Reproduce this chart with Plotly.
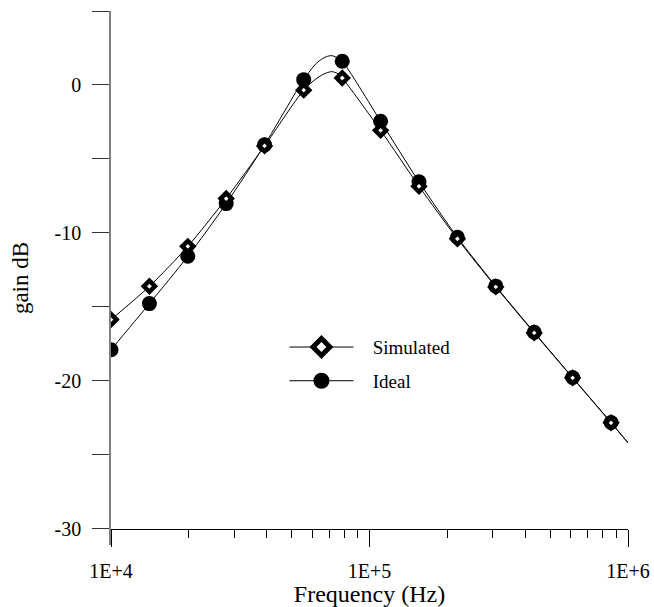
import plotly.graph_objects as go

# ---- data ----
freq_pts = [1.0e4, 1.408e4, 1.982e4, 2.79e4, 3.927e4, 5.566e4, 7.845e4,
            1.104e5, 1.554e5, 2.188e5, 3.08e5, 4.337e5, 6.106e5, 8.6e5]
sim_pts = [-15.86, -13.61, -10.91, -7.68, -4.12, -0.35, 0.47,
           -3.07, -6.85, -10.4, -13.65, -16.76, -19.8, -22.84]
ideal_pts = [-17.9, -14.78, -11.58, -8.02, -4.05, 0.36, 1.6,
             -2.45, -6.55, -10.3, -13.6, -16.72, -19.78, -22.82]

# smooth curves (including the peak and the end at 1E+6)
sim_curve_f = [1.0e4, 1.408e4, 1.982e4, 2.79e4, 3.927e4, 5.566e4, 6.26e4, 6.785e4,
               7.157e4, 7.55e4, 7.845e4, 1.104e5, 1.554e5, 2.188e5, 3.08e5,
               4.337e5, 6.106e5, 8.6e5, 1.0e6]
sim_curve_db = [-15.86, -13.61, -10.91, -7.68, -4.12, -0.35, 0.46, 0.8,
                0.9, 0.76, 0.47, -3.07, -6.85, -10.4, -13.65,
                -16.76, -19.8, -22.84, -24.19]
ideal_curve_f = [1.0e4, 1.408e4, 1.982e4, 2.79e4, 3.927e4, 5.566e4, 6.26e4, 6.785e4,
                 7.157e4, 7.55e4, 7.845e4, 1.104e5, 1.554e5, 2.188e5, 3.08e5,
                 4.337e5, 6.106e5, 8.6e5, 1.0e6]
ideal_curve_db = [-17.9, -14.78, -11.58, -8.02, -4.05, 0.36, 1.5, 1.9,
                  1.98, 1.8, 1.6, -2.45, -6.55, -10.3, -13.6,
                  -16.72, -19.78, -22.82, -24.19]

x_major = [1e4, 1e5, 1e6]
x_major_text = ["1E+4", "1E+5", "1E+6"]
x_minor = [m * d for d in (1e4, 1e5) for m in range(2, 10)]
y_major = [-30, -20, -10, 0]
y_major_text = ["-30", "-20", "-10", "0"]
y_minor = [-25, -15, -5, 5]

FONT = "Liberation Serif, Times New Roman, Times, serif"
PAD = "\u00a0" * 3

fig = go.Figure()

# curves
fig.add_trace(go.Scatter(x=sim_curve_f, y=sim_curve_db, mode="lines",
                         line=dict(color="black", width=1, shape="spline", smoothing=0.8),
                         showlegend=False, hoverinfo="skip"))
fig.add_trace(go.Scatter(x=ideal_curve_f, y=ideal_curve_db, mode="lines",
                         line=dict(color="black", width=1, shape="spline", smoothing=0.8),
                         showlegend=False, hoverinfo="skip"))

sim_marker = dict(symbol="diamond", size=8.5, color="white",
                  line=dict(color="black", width=4.5))
ideal_marker = dict(symbol="circle", size=15, color="black",
                    line=dict(color="black", width=0))

# markers
fig.add_trace(go.Scatter(x=freq_pts, y=ideal_pts, mode="markers", marker=ideal_marker,
                         showlegend=False))
fig.add_trace(go.Scatter(x=freq_pts, y=sim_pts, mode="markers", marker=sim_marker,
                         showlegend=False))

# legend entries
fig.add_trace(go.Scatter(x=[None], y=[None], mode="lines+markers", name=PAD + "Simulated",
                         line=dict(color="black", width=1),
                         marker=dict(symbol="diamond", size=13, color="white",
                                     line=dict(color="black", width=5)),
                         legendgroup="a"))
fig.add_trace(go.Scatter(x=[None], y=[None], mode="lines+markers", name=PAD + "Ideal",
                         line=dict(color="black", width=1),
                         marker=dict(symbol="circle", size=16, color="black"),
                         legendgroup="b"))

y_lo, y_hi = -31.1, 5.0

fig.update_layout(
    width=654, height=607,
    margin=dict(l=111, r=26, t=11, b=62, autoexpand=False),
    paper_bgcolor="white", plot_bgcolor="white",
    font=dict(family=FONT, color="black", size=18),
    showlegend=True,
    legend=dict(x=0.3355, y=0.406, xanchor="left", yanchor="top",
                bgcolor="rgba(0,0,0,0)", font=dict(family=FONT, size=19),
                itemwidth=64, tracegroupgap=6),
    xaxis=dict(
        type="log", range=[4, 6], automargin=False,
        anchor="free", position=(-30 - y_lo) / (y_hi - y_lo),
        showgrid=False, zeroline=False,
        showline=True, linecolor="black", linewidth=1,
        tickmode="array", tickvals=x_major, ticktext=x_major_text,
        ticks="outside", ticklen=17, tickcolor="black", tickwidth=1,
        ticklabelstandoff=7,
        tickfont=dict(family=FONT, size=20),
        minor=dict(tickvals=x_minor, ticks="outside", ticklen=8,
                   tickcolor="black", tickwidth=1, showgrid=False),
        title=dict(text="Frequency (Hz)", font=dict(family=FONT, size=24), standoff=4),
    ),
    yaxis=dict(
        range=[y_lo, y_hi], automargin=False,
        showgrid=False, zeroline=False,
        showline=True, linecolor="#808080", linewidth=1.5,
        tickmode="array", tickvals=y_major, ticktext=y_major_text,
        ticks="outside", ticklen=17, tickcolor="#333333", tickwidth=1,
        ticklabelstandoff=7,
        tickfont=dict(family=FONT, size=20),
        minor=dict(tickvals=y_minor, ticks="outside", ticklen=17,
                   tickcolor="#333333", tickwidth=1, showgrid=False),
        title=dict(text="gain dB", font=dict(family=FONT, size=23), standoff=20),
    ),
)

fig.write_html("out.html")
